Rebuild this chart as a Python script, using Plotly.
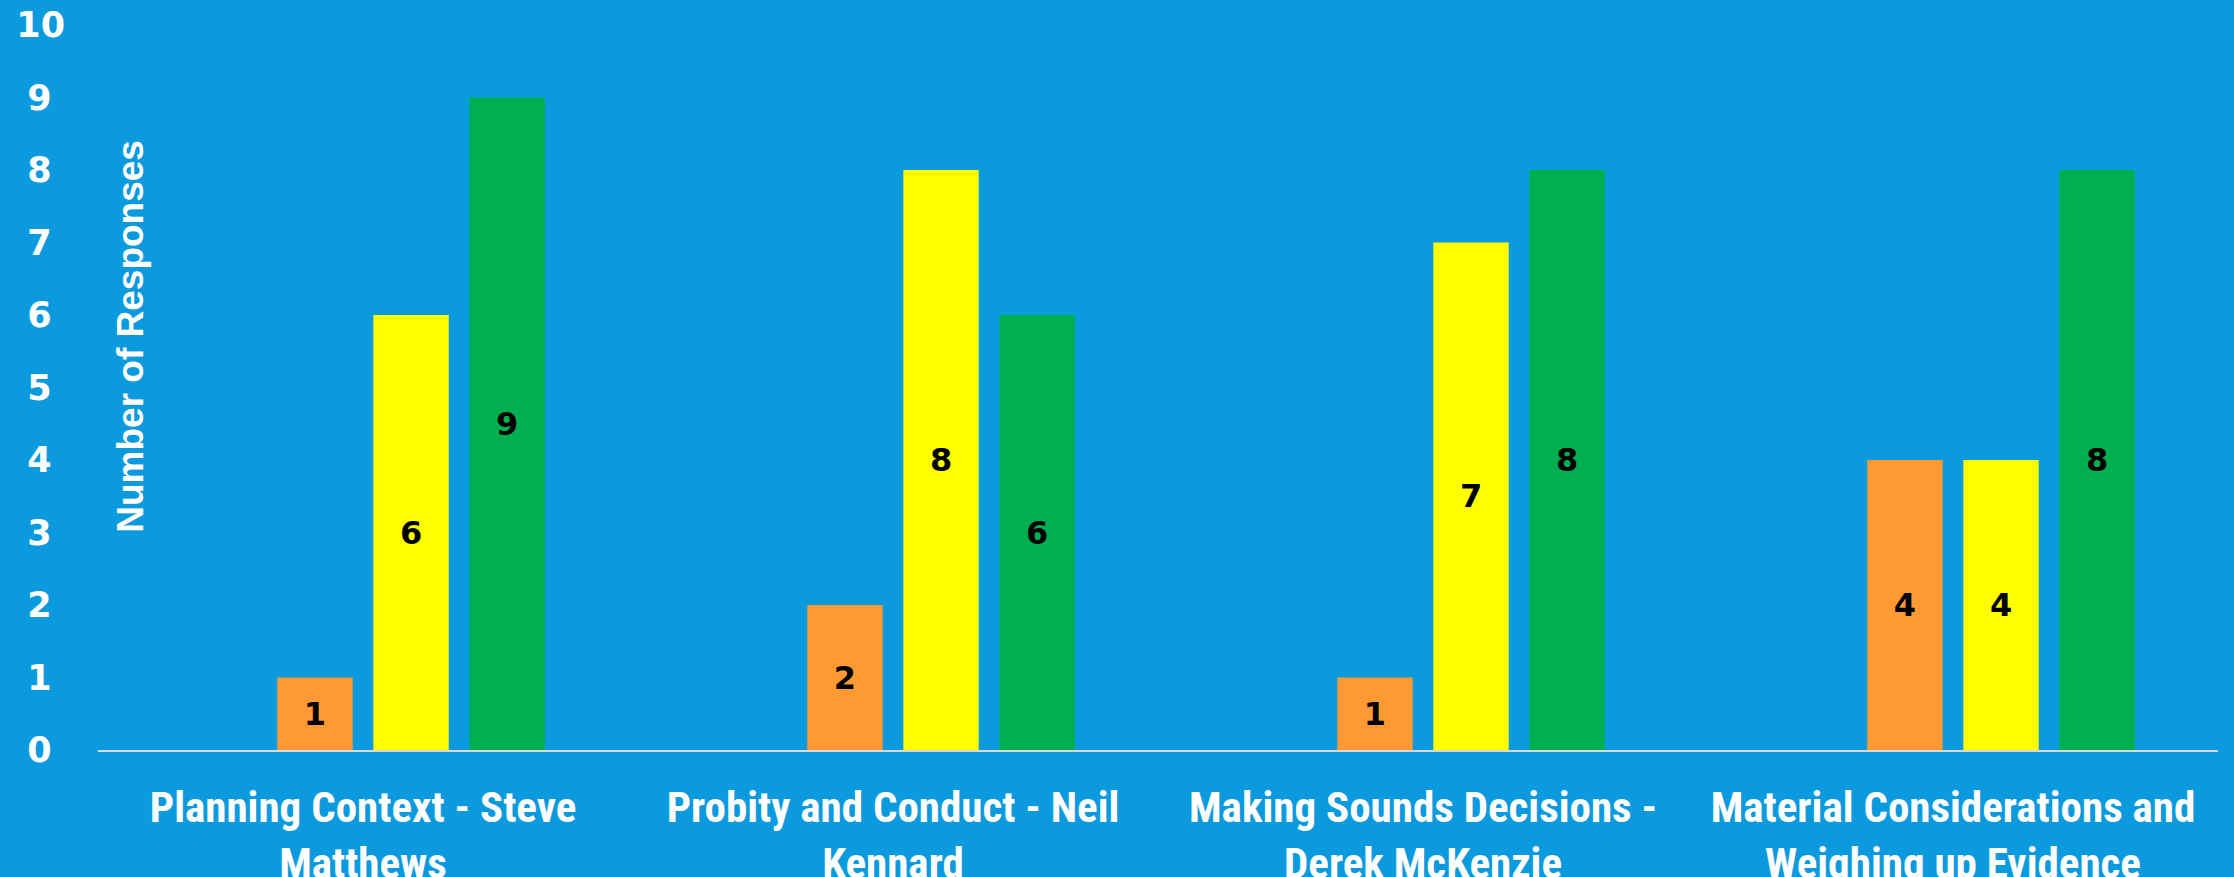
import plotly.graph_objects as go

categories = [
    "Planning Context - Steve<br>Matthews",
    "Probity and Conduct - Neil<br>Kennard",
    "Making Sounds Decisions -<br>Derek McKenzie",
    "Material Considerations and<br>Weighing up Evidence",
]
series_names = ["Poor", "Average", "Good", "Excellent"]
series_values = [
    [0, 0, 0, 0],
    [1, 2, 1, 4],
    [6, 8, 7, 4],
    [9, 6, 8, 8],
]
series_colors = ["#ff0000", "#ff9933", "#ffff00", "#00b050"]
tick_vals = [0, 1, 2, 3, 4, 5, 6, 7, 8, 9, 10]
tick_text = ["0\u2008", "1\u2008", "2\u2008", "3\u2008", "4\u2008", "5\u2008",
             "6\u2008", "7\u2008", "8\u2008", "9\u2008", "10"]

BG = "#0b9ade"
fig = go.Figure()
for name, vals, col in zip(series_names, series_values, series_colors):
    fig.add_trace(go.Bar(
        x=categories, y=vals, name=name, marker_color=col, marker_line_width=0,
        text=[str(v) if v else "" for v in vals],
        textposition="inside", insidetextanchor="middle", textangle=0,
        textfont=dict(family="DejaVu Sans", size=32, color="black", weight="bold"),
        cliponaxis=False,
    ))

fig.update_layout(
    width=2234, height=877,
    paper_bgcolor=BG, plot_bgcolor=BG,
    margin=dict(l=98, r=16, t=25, b=127, autoexpand=False),
    barmode="group", bargap=0.275, bargroupgap=0.215,
    showlegend=False,
    uniformtext=dict(minsize=10, mode="show"),
)
fig.update_yaxes(
    range=[0, 10], tickvals=tick_vals, ticktext=tick_text,
    showgrid=False, zeroline=False, showline=False, ticks="",
    ticklabelstandoff=32, automargin=False,
    tickfont=dict(family="DejaVu Sans", size=35, color="white", weight="bold"),
)
fig.update_xaxes(
    showline=True, linecolor="#d9d9d9", linewidth=2, ticks="",
    showgrid=False, ticklabelstandoff=18, automargin=False,
    tickfont=dict(family="Liberation Sans Narrow, Roboto Condensed, Liberation Sans", size=43,
                  color="white", weight="bold"),
)
fig.add_annotation(
    text="Number of Responses", xref="paper", yref="paper",
    x=0.0, y=0.57, xanchor="center", yanchor="middle", xshift=33,
    textangle=-90, showarrow=False,
    font=dict(family="Liberation Sans Narrow, Liberation Sans", size=37, color="white", weight="bold"),
)
fig.write_html(
    "out.html",
    config={"displayModeBar": False},
    post_script="document.body.style.margin='0';document.body.style.overflow='hidden';",
)
